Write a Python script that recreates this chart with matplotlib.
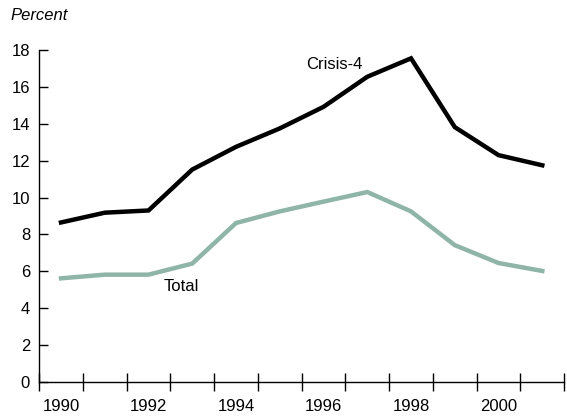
import matplotlib.pyplot as plt

years = [1990, 1991, 1992, 1993, 1994, 1995, 1996, 1997, 1998, 1999, 2000, 2001]
crisis4 = [8.65, 9.18, 9.3, 11.52, 12.75, 13.75, 14.92, 16.55, 17.55, 13.82, 12.3, 11.75]
total = [5.62, 5.82, 5.82, 6.42, 8.62, 9.25, 9.78, 10.3, 9.25, 7.42, 6.45, 6.02]
year_labels = [1990, 1992, 1994, 1996, 1998, 2000]
y_ticks = [0, 2, 4, 6, 8, 10, 12, 14, 16, 18]

plt.rcParams['font.family'] = ['Liberation Sans', 'DejaVu Sans']

fig = plt.figure(figsize=(5.67, 4.17), dpi=100)
ax = fig.add_axes([0.069, 0.084, 0.926, 0.796])

ax.plot(years, crisis4, color='black', linewidth=3.2, solid_joinstyle='miter')
ax.plot(years, total, color='#8fb5a8', linewidth=3.2, solid_joinstyle='miter')

ax.text(1995.6, 17.2, 'Crisis-4', fontsize=12, ha='left', va='center')
ax.text(1992.35, 5.2, 'Total', fontsize=12, ha='left', va='center')

ax.set_xlim(1989.5, 2001.5)
ax.set_ylim(0, 18)

# boundaries between years get tick marks, labels sit in the middle
ax.set_xticks([1989.5 + i for i in range(13)])
ax.set_xticklabels([])
ax.set_xticks(year_labels, minor=True)
ax.set_xticklabels([str(y) for y in year_labels], minor=True)
ax.tick_params(axis='x', which='major', direction='inout', length=13, width=1)
ax.tick_params(axis='x', which='minor', length=0, labelsize=12, pad=12)

ax.set_yticks(y_ticks)
ax.tick_params(axis='y', direction='in', length=6.5, width=1, labelsize=12, pad=6.5)

for side in ['top', 'right']:
    ax.spines[side].set_visible(False)
for side in ['left', 'bottom']:
    ax.spines[side].set_linewidth(1)

fig.text(0.018, 0.962, 'Percent', fontsize=12, style='italic', ha='left', va='center')

fig.savefig('out.png', dpi=100)
